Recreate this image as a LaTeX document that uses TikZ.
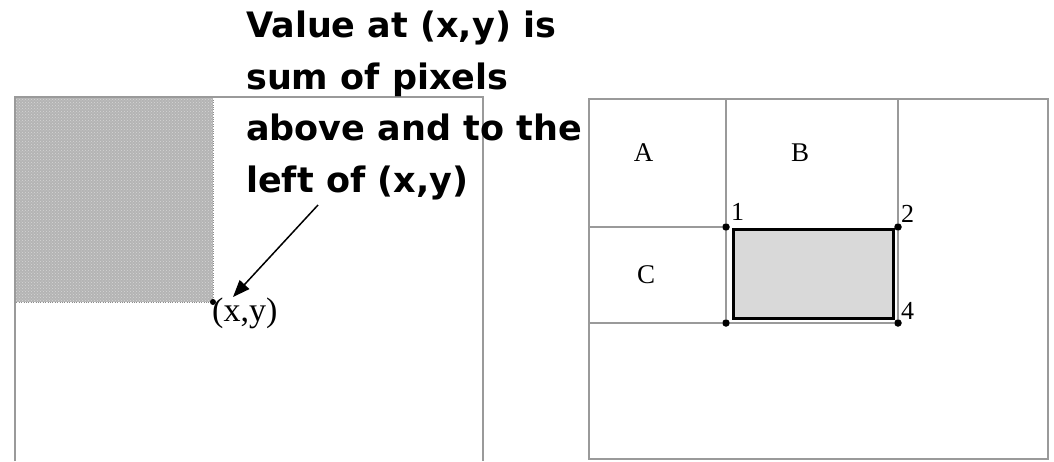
\documentclass[tikz,border=0pt]{standalone}
\usepackage{fontspec}
\setmainfont{Liberation Serif}
\newfontfamily\calloutfont{DejaVu Sans}
\usetikzlibrary{arrows.meta, patterns}
\definecolor{cFrame}{HTML}{9A9A9A}
\definecolor{cSum}{HTML}{B4B4B4}
\definecolor{cRect}{HTML}{D9D9D9}
\tikzset{
  frameline/.style={draw=cFrame, line width=1.3pt},
  corner/.style={circle, fill=black, inner sep=0pt, minimum size=7.5pt},
  cornerlabel/.style={font=\fontsize{26}{26}\selectfont, inner sep=0pt, anchor=base west},
  regionlabel/.style={font=\fontsize{27}{27}\selectfont, inner sep=0pt, anchor=base},
  pointer/.style={-{Triangle[length=17pt,width=13pt]}, line width=1.5pt},
  callout/.style={font=\calloutfont\bfseries\fontsize{35}{51.5}\selectfont,
    align=left, inner sep=0pt}
}

\begin{document}
\begin{tikzpicture}[x=1pt, y=-1pt]
  \useasboundingbox (0,0) rectangle (1054,461);

  % left panel: integral image value
  \fill[cSum] (15,97) rectangle (213,302);
  \fill[pattern=crosshatch dots, pattern color=white!45!cSum] (15,97) rectangle (213,302);
  \draw[gray!90, dotted] (15,97) rectangle (213,302);
  \draw[frameline] (15,461) -- (15,97) -- (483,97) -- (483,461);
  \node[corner, minimum size=6pt] (xy) at (213,302) {};
  \node[font=\fontsize{34}{34}\selectfont, inner sep=0pt, anchor=base west] (xylabel) at (212,321) {(x,y)};

  \node[callout, anchor=north west] (note) at (246,11) {Value at (x,y) is\\sum of pixels\\above and to the\\left of (x,y)};
  \coordinate (tail) at (318,205);
  \coordinate (tip) at (233,297);
  \draw[pointer] (tail) -- (tip);

  % right panel: rectangle sum from four corners
  \draw[frameline] (589,99) rectangle (1048,459);
  \node[corner] (p1) at (726,227) {};
  \node[corner] (p2) at (898,227) {};
  \node[corner] (p3) at (726,323) {};
  \node[corner] (p4) at (898,323) {};
  \draw[frameline] (726,99) -- (p1) -- (p3);
  \draw[frameline] (898,99) -- (p2) -- (p4);
  \draw[frameline] (589,227) -- (p1);
  \draw[frameline] (589,323) -- (p3) -- (p4);
  \node[draw=black, line width=3pt, fill=cRect, inner sep=0pt, minimum width=160pt, minimum height=89pt] (d) at (813,273.5) {};

  \node[regionlabel] (A) at (643.5,161) {A};
  \node[regionlabel] (B) at (800,161) {B};
  \node[regionlabel] (C) at (646,283) {C};
  \node[cornerlabel] (n1) at (731,220) {1};
  \node[cornerlabel] (n2) at (901,222) {2};
  \node[cornerlabel] (n4) at (901,319) {4};
\end{tikzpicture}
\end{document}
